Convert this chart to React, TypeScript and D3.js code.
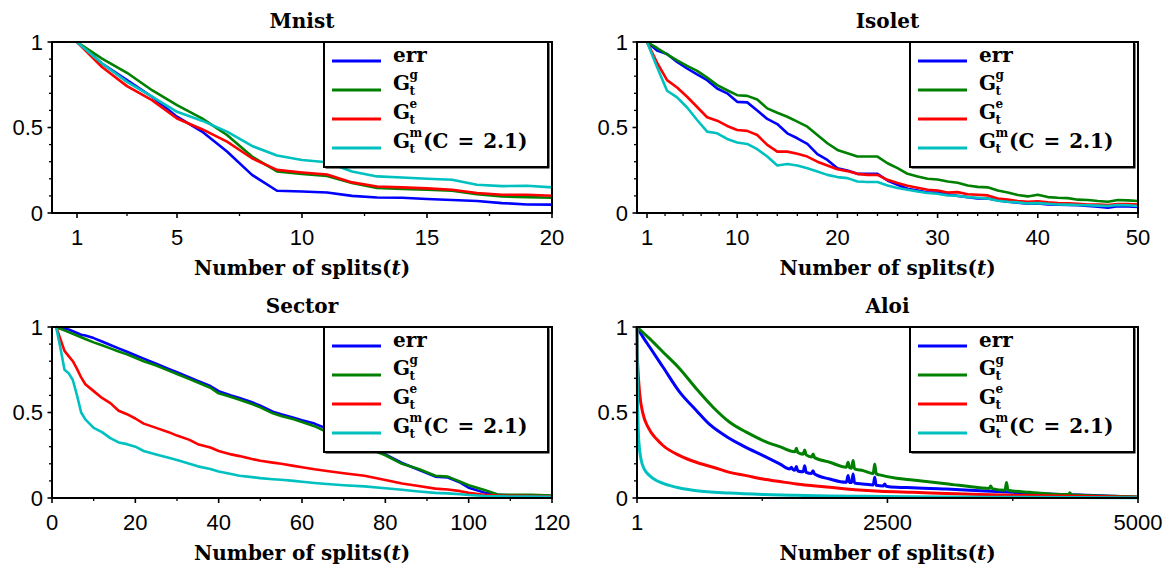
import React from 'react';
import * as d3 from 'd3';

// ---------- DATA ----------
const seriesKeys = ['err', 'g', 'e', 'm'];
const seriesColors = ['#0000ff', '#008000', '#ff0000', '#00c0c0'];

// Mnist
const mnistT = [1, 2, 3, 4, 5, 6, 7, 8, 9, 10, 11, 12, 13, 14, 15, 16, 17, 18, 19, 20];
const mnistErr = [1.0, 0.874, 0.777, 0.68, 0.563, 0.476, 0.36, 0.223, 0.13, 0.126, 0.12, 0.1, 0.091, 0.089, 0.082, 0.076, 0.07, 0.058, 0.05, 0.049];
const mnistG = [1.0, 0.903, 0.82, 0.718, 0.631, 0.553, 0.456, 0.33, 0.243, 0.229, 0.217, 0.175, 0.146, 0.14, 0.136, 0.13, 0.11, 0.097, 0.093, 0.089];
const mnistE = [1.0, 0.854, 0.742, 0.66, 0.553, 0.49, 0.417, 0.32, 0.252, 0.237, 0.225, 0.179, 0.155, 0.15, 0.144, 0.136, 0.117, 0.107, 0.107, 0.101];
const mnistM = [1.0, 0.874, 0.767, 0.68, 0.592, 0.54, 0.476, 0.392, 0.336, 0.31, 0.297, 0.243, 0.214, 0.208, 0.2, 0.194, 0.165, 0.157, 0.159, 0.15];
const mnistMajor = [1, 5, 10, 15, 20];
const mnistMinor = [3, 7.5, 12.5, 17.5];

// Isolet
const isoletT = [1, 2, 3, 4, 5, 6, 7, 8, 9, 10, 11, 12, 13, 14, 15, 16, 17, 18, 19, 20, 21, 22, 23, 24, 25, 26, 27, 28, 29, 30, 31, 32, 33, 34, 35, 36, 37, 38, 39, 40, 41, 42, 43, 44, 45, 46, 47, 48, 49, 50];
const isoletErr = [1.0, 0.95, 0.93, 0.883, 0.845, 0.81, 0.777, 0.728, 0.7, 0.65, 0.647, 0.6, 0.55, 0.52, 0.466, 0.437, 0.404, 0.344, 0.31, 0.262, 0.249, 0.229, 0.229, 0.229, 0.19, 0.165, 0.142, 0.132, 0.12, 0.12, 0.11, 0.1, 0.093, 0.085, 0.085, 0.074, 0.066, 0.06, 0.054, 0.056, 0.05, 0.049, 0.047, 0.045, 0.041, 0.037, 0.031, 0.039, 0.039, 0.035];
const isoletG = [1.0, 0.965, 0.928, 0.893, 0.86, 0.831, 0.792, 0.748, 0.718, 0.689, 0.685, 0.664, 0.612, 0.586, 0.563, 0.534, 0.505, 0.456, 0.408, 0.369, 0.35, 0.33, 0.33, 0.33, 0.291, 0.262, 0.229, 0.214, 0.2, 0.196, 0.184, 0.177, 0.161, 0.153, 0.15, 0.132, 0.12, 0.105, 0.097, 0.107, 0.093, 0.089, 0.087, 0.078, 0.076, 0.07, 0.066, 0.076, 0.074, 0.07];
const isoletE = [1.0, 0.88, 0.777, 0.734, 0.68, 0.62, 0.56, 0.54, 0.509, 0.485, 0.48, 0.456, 0.398, 0.359, 0.359, 0.346, 0.33, 0.3, 0.278, 0.256, 0.245, 0.229, 0.223, 0.223, 0.194, 0.175, 0.159, 0.148, 0.136, 0.132, 0.12, 0.122, 0.11, 0.107, 0.103, 0.085, 0.078, 0.07, 0.066, 0.068, 0.062, 0.058, 0.056, 0.054, 0.05, 0.049, 0.047, 0.052, 0.052, 0.05];
const isoletM = [1.0, 0.854, 0.715, 0.676, 0.617, 0.544, 0.476, 0.466, 0.433, 0.412, 0.404, 0.373, 0.33, 0.278, 0.287, 0.278, 0.262, 0.243, 0.223, 0.21, 0.204, 0.184, 0.181, 0.181, 0.161, 0.146, 0.136, 0.126, 0.117, 0.113, 0.103, 0.101, 0.093, 0.089, 0.085, 0.072, 0.066, 0.062, 0.056, 0.058, 0.054, 0.05, 0.049, 0.047, 0.045, 0.043, 0.041, 0.047, 0.045, 0.041];
const isoletMajor = [1, 10, 20, 30, 40, 50];
const isoletMinor = [2.8, 4.6, 6.4, 8.2, 12, 14, 16, 18, 22, 24, 26, 28, 32, 34, 36, 38, 42, 44, 46, 48];

// Sector
const sectorT = [1, 2, 3, 4, 5, 6, 7, 8, 10, 12, 14, 16, 18, 20, 22, 25, 28, 30, 33, 35, 38, 40, 43, 45, 48, 50, 53, 55, 58, 60, 63, 66, 70, 75, 80, 84, 88, 92, 95, 98, 100, 104, 107, 110, 115, 120];
const sectorErr = [1.0, 0.995, 0.99, 0.985, 0.975, 0.965, 0.955, 0.95, 0.935, 0.915, 0.895, 0.875, 0.855, 0.835, 0.815, 0.785, 0.755, 0.735, 0.705, 0.685, 0.655, 0.625, 0.6, 0.585, 0.56, 0.54, 0.505, 0.49, 0.47, 0.455, 0.435, 0.405, 0.37, 0.31, 0.255, 0.205, 0.165, 0.125, 0.12, 0.09, 0.06, 0.03, 0.018, 0.016, 0.015, 0.012];
const sectorG = [1.0, 0.99, 0.98, 0.97, 0.96, 0.95, 0.94, 0.93, 0.91, 0.893, 0.875, 0.857, 0.84, 0.82, 0.8, 0.775, 0.745, 0.725, 0.695, 0.675, 0.645, 0.612, 0.59, 0.575, 0.55, 0.53, 0.495, 0.48, 0.46, 0.445, 0.42, 0.385, 0.355, 0.3, 0.25, 0.2, 0.17, 0.13, 0.125, 0.095, 0.075, 0.045, 0.02, 0.018, 0.018, 0.014];
const sectorE = [1.0, 0.93, 0.86, 0.83, 0.8, 0.755, 0.705, 0.665, 0.625, 0.585, 0.555, 0.51, 0.49, 0.465, 0.435, 0.41, 0.385, 0.365, 0.34, 0.315, 0.295, 0.275, 0.255, 0.245, 0.228, 0.218, 0.207, 0.2, 0.188, 0.18, 0.168, 0.158, 0.145, 0.13, 0.105, 0.085, 0.07, 0.055, 0.05, 0.04, 0.03, 0.018, 0.014, 0.013, 0.012, 0.01];
const sectorM = [1.0, 0.88, 0.75, 0.73, 0.69, 0.6, 0.5, 0.46, 0.41, 0.385, 0.35, 0.325, 0.315, 0.3, 0.275, 0.255, 0.235, 0.222, 0.2, 0.185, 0.17, 0.155, 0.14, 0.13, 0.122, 0.116, 0.11, 0.107, 0.1, 0.095, 0.088, 0.082, 0.075, 0.068, 0.057, 0.048, 0.038, 0.03, 0.027, 0.022, 0.018, 0.012, 0.01, 0.009, 0.008, 0.007];
const sectorMajor = [0, 20, 40, 60, 80, 100, 120];
const sectorMinor = [10, 30, 50, 70, 90, 110];

// Aloi  ([t, value] pairs)
const aloiErr: [number, number][] = [[1, 1.0], [61, 0.941], [127, 0.883], [260, 0.766], [427, 0.619], [593, 0.512], [726, 0.43], [892, 0.36], [1059, 0.305], [1259, 0.248], [1425, 0.2], [1526, 0.17], [1541, 0.18], [1556, 0.167], [1576, 0.162], [1591, 0.184], [1606, 0.158], [1659, 0.153], [1674, 0.189], [1689, 0.15], [1743, 0.143], [1758, 0.16], [1773, 0.14], [1924, 0.111], [2090, 0.092], [2107, 0.131], [2122, 0.091], [2142, 0.09], [2157, 0.141], [2172, 0.088], [2257, 0.082], [2358, 0.076], [2373, 0.121], [2388, 0.074], [2458, 0.07], [2473, 0.082], [2488, 0.069], [2590, 0.0625], [2752, 0.06], [3085, 0.052], [3420, 0.043], [3750, 0.033], [4090, 0.023], [4420, 0.017], [4750, 0.01], [5000, 0.005]];
const aloiG: [number, number][] = [[1, 1.0], [127, 0.932], [260, 0.854], [427, 0.756], [593, 0.639], [760, 0.531], [926, 0.443], [1092, 0.385], [1259, 0.336], [1425, 0.3], [1576, 0.27], [1591, 0.291], [1606, 0.266], [1659, 0.256], [1674, 0.281], [1689, 0.252], [1743, 0.24], [1758, 0.258], [1773, 0.236], [1924, 0.209], [2090, 0.18], [2107, 0.209], [2122, 0.177], [2142, 0.174], [2157, 0.219], [2172, 0.171], [2257, 0.16], [2358, 0.143], [2373, 0.199], [2388, 0.141], [2423, 0.135], [2590, 0.115], [2752, 0.105], [3085, 0.084], [3420, 0.06], [3515, 0.056], [3530, 0.07], [3545, 0.055], [3673, 0.046], [3688, 0.091], [3703, 0.045], [3920, 0.033], [4305, 0.02], [4320, 0.03], [4335, 0.019], [4750, 0.01], [5000, 0.006]];
const aloiE: [number, number][] = [[1, 1.0], [5, 0.83], [11, 0.746], [28, 0.609], [61, 0.492], [111, 0.414], [194, 0.346], [260, 0.307], [427, 0.248], [593, 0.209], [760, 0.18], [926, 0.15], [1092, 0.131], [1259, 0.111], [1425, 0.096], [1591, 0.082], [1758, 0.072], [1924, 0.0625], [2090, 0.053], [2257, 0.045], [2423, 0.039], [2752, 0.033], [3085, 0.027], [3420, 0.021], [3750, 0.016], [4420, 0.01], [5000, 0.004]];
const aloiM: [number, number][] = [[1, 1.0], [4, 0.72], [11, 0.453], [21, 0.316], [44, 0.219], [78, 0.164], [127, 0.131], [194, 0.102], [260, 0.086], [427, 0.059], [593, 0.043], [926, 0.029], [1259, 0.021], [1591, 0.016], [1924, 0.012], [2257, 0.01], [2722, 0.007], [3500, 0.005], [5000, 0.002]];
const aloiMajor = [1, 2500, 5000];
const aloiMinor = [1250.5, 3750.5];

const yMajor = [0, 0.5, 1];
const yMinor = [0.1, 0.2, 0.3, 0.4, 0.6, 0.7, 0.8, 0.9];

// ---------- LAYOUT ----------
const W = 1164;
const H = 567;
const SERIF = "'DejaVu Serif', serif";
const SANS = "'Liberation Sans', Arial, sans-serif";

const zipT = (ts: number[], vs: number[]): [number, number][] => ts.map((t, i) => [t, vs[i]]);

type PanelDef = {
  title: string;
  left: number; right: number; top: number; bottom: number;
  domain: [number, number];
  major: number[]; minor: number[];
  series: [number, number][][];
  width: number;
  smooth: boolean;
};

const panels: PanelDef[] = [
  { title: 'Mnist', left: 52, right: 552, top: 42, bottom: 213, domain: [0, 20], major: mnistMajor, minor: mnistMinor,
    series: [zipT(mnistT, mnistErr), zipT(mnistT, mnistG), zipT(mnistT, mnistE), zipT(mnistT, mnistM)], width: 2.6, smooth: false },
  { title: 'Isolet', left: 637, right: 1138, top: 42, bottom: 213, domain: [0, 50], major: isoletMajor, minor: isoletMinor,
    series: [zipT(isoletT, isoletErr), zipT(isoletT, isoletG), zipT(isoletT, isoletE), zipT(isoletT, isoletM)], width: 2.6, smooth: false },
  { title: 'Sector', left: 52, right: 552, top: 327, bottom: 498, domain: [0, 120], major: sectorMajor, minor: sectorMinor,
    series: [zipT(sectorT, sectorErr), zipT(sectorT, sectorG), zipT(sectorT, sectorE), zipT(sectorT, sectorM)], width: 2.6, smooth: false },
  { title: 'Aloi', left: 637, right: 1138, top: 327, bottom: 498, domain: [1, 5000], major: aloiMajor, minor: aloiMinor,
    series: [aloiErr, aloiG, aloiE, aloiM], width: 3, smooth: true },
];

function Legend({ x, y }: { x: number; y: number }) {
  const w = 224, h = 125;
  const rows = [19, 48, 77, 106];
  const tx = x + 69;
  return (
    <g>
      <rect x={x + 1.5} y={y + 1.5} width={w} height={h} fill="#000" />
      <rect x={x} y={y} width={w} height={h} fill="#fff" stroke="#000" strokeWidth={2} />
      {rows.map((ry, i) => (
        <line key={i} x1={x + 8} x2={x + 57} y1={y + ry} y2={y + ry} stroke={seriesColors[i]} strokeWidth={3} />
      ))}
      <text x={tx} y={y + rows[0] + 1} fontFamily={SERIF} fontWeight="bold" fontSize={20}>err</text>
      {[1, 2, 3].map((i) => {
        const by = y + rows[i];
        const sup = seriesKeys[i];
        return (
          <text key={i} x={tx} y={by} fontFamily={SERIF} fontWeight="bold" fontSize={20}>
            G
            <tspan x={tx + 16.5} y={by + 5} fontSize={12}>t</tspan>
            <tspan x={tx + 16.5} y={by - 11.5} fontSize={12}>{sup}</tspan>
            {i === 3 && (
              <>
                <tspan x={tx + 30} y={by}>(C</tspan>
                <tspan dx={9}>=</tspan>
                <tspan dx={9}>2.1)</tspan>
              </>
            )}
          </text>
        );
      })}
    </g>
  );
}

function Panel({ p }: { p: PanelDef }) {
  const x = d3.scaleLinear().domain(p.domain).range([p.left, p.right]);
  const y = d3.scaleLinear().domain([0, 1]).range([p.bottom, p.top]);
  const line = d3.line<[number, number]>().x((d) => x(d[0])).y((d) => y(d[1]))
    .curve(p.smooth ? d3.curveMonotoneX : d3.curveLinear);
  const cx = (p.left + p.right) / 2;
  return (
    <g>
      {p.series.map((s, i) => (
        <path key={i} d={line(s) || ''} fill="none" stroke={seriesColors[i]} strokeWidth={p.width} strokeLinejoin="round" />
      ))}
      {/* frame */}
      <rect x={p.left} y={p.top} width={p.right - p.left} height={p.bottom - p.top} fill="none" stroke="#000" strokeWidth={2} />
      {/* y ticks */}
      {yMajor.map((v) => (
        <g key={'ym' + v}>
          <line x1={p.left - 4.5} x2={p.left} y1={y(v)} y2={y(v)} stroke="#000" strokeWidth={1.6} />
          <text x={p.left - 9} y={y(v)} dy="0.36em" textAnchor="end" fontFamily={SANS} fontSize={22}>{v}</text>
        </g>
      ))}
      {yMinor.map((v) => (
        <line key={'yn' + v} x1={p.left - 3} x2={p.left} y1={y(v)} y2={y(v)} stroke="#000" strokeWidth={1.3} />
      ))}
      {/* x ticks */}
      {p.major.map((v) => (
        <g key={'xm' + v}>
          <line x1={x(v)} x2={x(v)} y1={p.bottom} y2={p.bottom + 5} stroke="#000" strokeWidth={1.6} />
          <text x={x(v)} y={p.bottom + 32} textAnchor="middle" fontFamily={SANS} fontSize={22}>{v}</text>
        </g>
      ))}
      {p.minor.map((v) => (
        <line key={'xn' + v} x1={x(v)} x2={x(v)} y1={p.bottom} y2={p.bottom + 3} stroke="#000" strokeWidth={1.3} />
      ))}
      <text x={cx} y={p.top - 14} textAnchor="middle" fontFamily={SERIF} fontWeight="bold" fontSize={20}>{p.title}</text>
      <text x={cx} y={p.bottom + 62} textAnchor="middle" fontFamily={SERIF} fontWeight="bold" fontSize={20}>
        Number of splits(<tspan fontStyle="italic">t</tspan>)
      </text>
      <Legend x={p.right - 228} y={p.top} />
    </g>
  );
}

export default function App() {
  return (
    <svg width={W} height={H} viewBox={`0 0 ${W} ${H}`} style={{ position: 'absolute', left: 0, top: 0, background: '#fff' }}>
      <rect x={0} y={0} width={W} height={H} fill="#fff" />
      {panels.map((p) => (
        <Panel key={p.title} p={p} />
      ))}
    </svg>
  );
}
